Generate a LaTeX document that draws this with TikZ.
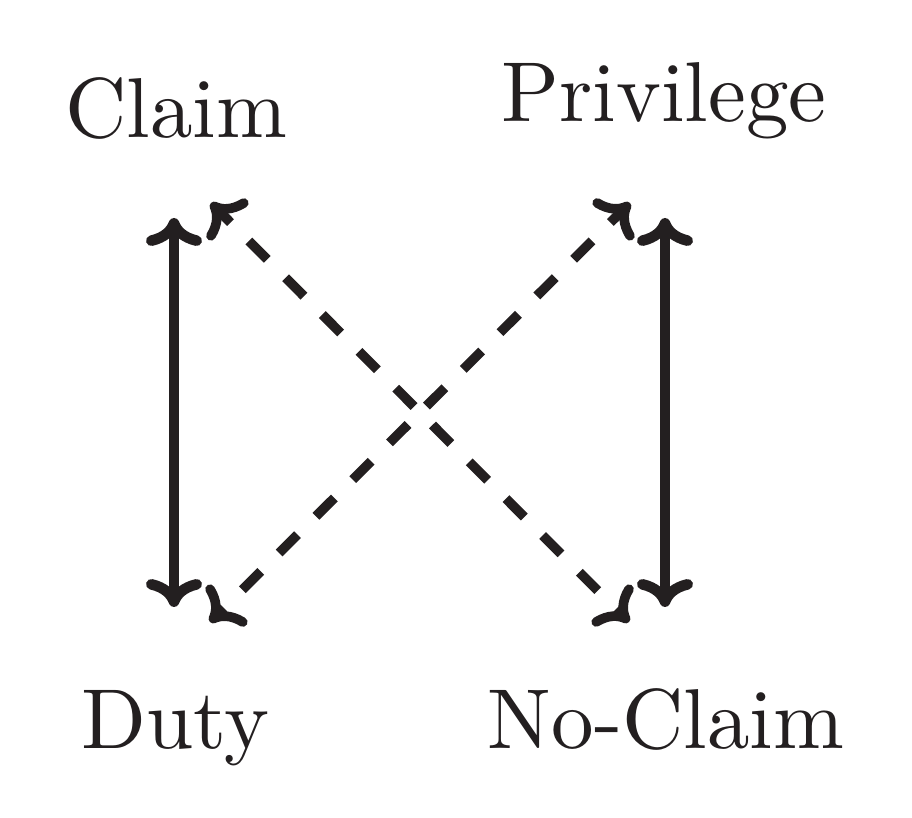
\documentclass[tikz,border=0pt]{standalone}
\usetikzlibrary{arrows.meta}
\definecolor{ink}{HTML}{231F20}
\newcommand{\biglbl}[1]{\scalebox{4.25}{\fontsize{10}{12}\selectfont #1}}
\begin{document}
\begin{tikzpicture}[x=0.5pt,y=-0.5pt,
  lbl/.style={inner sep=0pt,anchor=base,text=ink},
  tipcm/.tip={Computer Modern Rightarrow[length=14pt,width=28pt,line cap=round,line join=round]},
  solidarr/.style={line width=5.3pt,draw=ink,{tipcm}-{tipcm}},
  dasharr/.style={line width=4.8pt,draw=ink,{tipcm}-{tipcm},dash pattern=on 13pt off 13pt,dash phase=4pt}]
\useasboundingbox (0,0) rectangle (912,818);
\node[lbl] (claim) at (176,138) {\biglbl{Claim}};
\node[lbl] (priv) at (664,122) {\biglbl{Privilege}};
\node[lbl] (duty) at (175,748) {\biglbl{Duty}};
\node[lbl] (noclaim) at (666,748) {\biglbl{No-Claim}};
\coordinate (c1) at (174,218);
\coordinate (d1) at (174,607);
\coordinate (p1) at (665,218);
\coordinate (n1) at (665,607);
\coordinate (c2) at (211,203);
\coordinate (n2) at (629,622);
\coordinate (p2) at (630,203);
\coordinate (d2) at (210,622);
\draw[solidarr] (c1) -- (d1);
\draw[solidarr] (p1) -- (n1);
\draw[dasharr] (c2) -- (n2);
\draw[dasharr] (p2) -- (d2);
\end{tikzpicture}
\end{document}
